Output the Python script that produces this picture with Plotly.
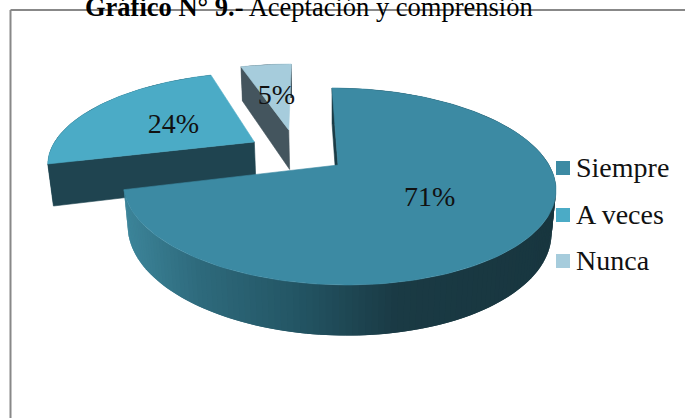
import numpy as np
import plotly.graph_objects as go

# ---- data ----
categories = ["Siempre", "A veces", "Nunca"]
percentages = [71, 24, 5]
title_bold = "Gráfico N° 9.-"
title_rest = " Aceptación y comprensión"

# ---- styles ----
top_colors = ["#3C8AA3", "#4BABC6", "#A6CCDC"]
edge_colors = ["#1B3C46", "#1F4450", "#44555E"]
rim_stops_x = [126, 200, 300, 400, 557]
rim_stops_rgb = [(60, 132, 153), (46, 106, 124), (35, 85, 100), (26, 58, 68), (24, 54, 63)]
TEXT_FONT = "Liberation Serif"
LABEL_DY = 3
LEGEND_DY = 2

# ---- projection of the pie disc (u, v on unit circle, z = depth 0..1) ----
X0, Y0 = 338, 165
A, B, D, E, K, M = 211.0, 93.8, 7.3, 43.0, 0.218, 0.02
explode = [(0.0, 0.0), (-0.41, -0.26), (-0.24, -0.406)]


def project(u, v, z=0.0):
    w = 1 - K * v + M * z
    return X0 + (A * u + D * v) / w, Y0 + (B * v + E * z) / w


def poly(fig, pts, color, lw=0.6):
    xs = [p[0] for p in pts] + [pts[0][0]]
    ys = [p[1] for p in pts] + [pts[0][1]]
    fig.add_trace(go.Scatter(x=xs, y=ys, mode="lines", fill="toself", fillcolor=color,
                             line=dict(color=color, width=lw),
                             hoverinfo="skip", showlegend=False))


def rim_color(x):
    c = [np.interp(x, rim_stops_x, [s[i] for s in rim_stops_rgb]) for i in range(3)]
    return "rgb(%d,%d,%d)" % tuple(int(round(v)) for v in c)


def disc_pt(theta, ox, oy, r=1.0, z=0.0):
    return project(r * np.sin(theta) + ox, -r * np.cos(theta) + oy, z)


fig = go.Figure()

edges = np.radians(np.cumsum([0] + percentages) * 3.6)

for i in [2, 1, 0]:  # far slices first
    a0, a1 = edges[i], edges[i + 1]
    ox, oy = explode[i]
    arc = np.linspace(a0, a1, max(int((a1 - a0) * 40), 8))
    # outer wall: overlapping strips so that no seams appear
    wall = np.linspace(a0, a1, 181) if i == 0 else arc
    for j in range(len(wall) - 1):
        s, t = wall[j], wall[min(j + 2, len(wall) - 1)]
        p = [disc_pt(s, ox, oy), disc_pt(t, ox, oy), disc_pt(t, ox, oy, z=1), disc_pt(s, ox, oy, z=1)]
        poly(fig, p, rim_color(disc_pt(wall[j], ox, oy)[0]) if i == 0 else edge_colors[i], lw=0)
    # visible cut face
    apex, apex_low = project(ox, oy), project(ox, oy, 1)
    poly(fig, [apex, disc_pt(a0, ox, oy), disc_pt(a0, ox, oy, z=1), apex_low], edge_colors[i])
    # top face
    poly(fig, [apex] + [disc_pt(a, ox, oy) for a in arc], top_colors[i])

# percentage labels
lab = [disc_pt((edges[i] + edges[i + 1]) / 2, *explode[i], r=0.5) for i in range(3)]
fig.add_trace(go.Scatter(x=[p[0] for p in lab], y=[p[1] + LABEL_DY for p in lab], mode="text",
                         text=[f"{v}%" for v in percentages],
                         textfont=dict(family=TEXT_FONT, size=28, color="#111111"),
                         hoverinfo="skip", showlegend=False))

# legend column
legend_x = 563
legend_text_x = 576
legend_y = [168, 215, 261]
fig.add_trace(go.Scatter(x=[legend_x] * 3, y=legend_y, mode="markers",
                         marker=dict(symbol="square", size=14, color=top_colors),
                         hoverinfo="skip", showlegend=False))
fig.add_trace(go.Scatter(x=[legend_text_x] * 3, y=[v + LEGEND_DY for v in legend_y], mode="text",
                         text=categories, textposition="middle right",
                         textfont=dict(family=TEXT_FONT, size=28, color="#111111"),
                         hoverinfo="skip", showlegend=False))

fig.update_layout(
    width=685, height=418,
    margin=dict(l=0, r=0, t=0, b=0),
    paper_bgcolor="white", plot_bgcolor="white",
    showlegend=False,
    xaxis=dict(range=[0, 685], visible=False, fixedrange=True),
    yaxis=dict(range=[418, 0], visible=False, fixedrange=True),
    title=dict(text=f"<b>{title_bold}</b>{title_rest}",
               x=85 / 685, xanchor="left", y=1 - 16 / 418, yanchor="bottom",
               font=dict(family="Liberation Serif", size=26.5, color="#000000")),
    shapes=[
        dict(type="line", xref="x", yref="y", x0=10.5, x1=685, y0=10, y1=10,
             line=dict(color="#888888", width=2)),
        dict(type="line", xref="x", yref="y", x0=10.5, x1=10.5, y0=10, y1=418,
             line=dict(color="#888888", width=2)),
    ],
)

fig.write_html("out.html", config=dict(displayModeBar=False),
               post_script="document.body.style.margin='0';document.documentElement.style.overflow='hidden';")
